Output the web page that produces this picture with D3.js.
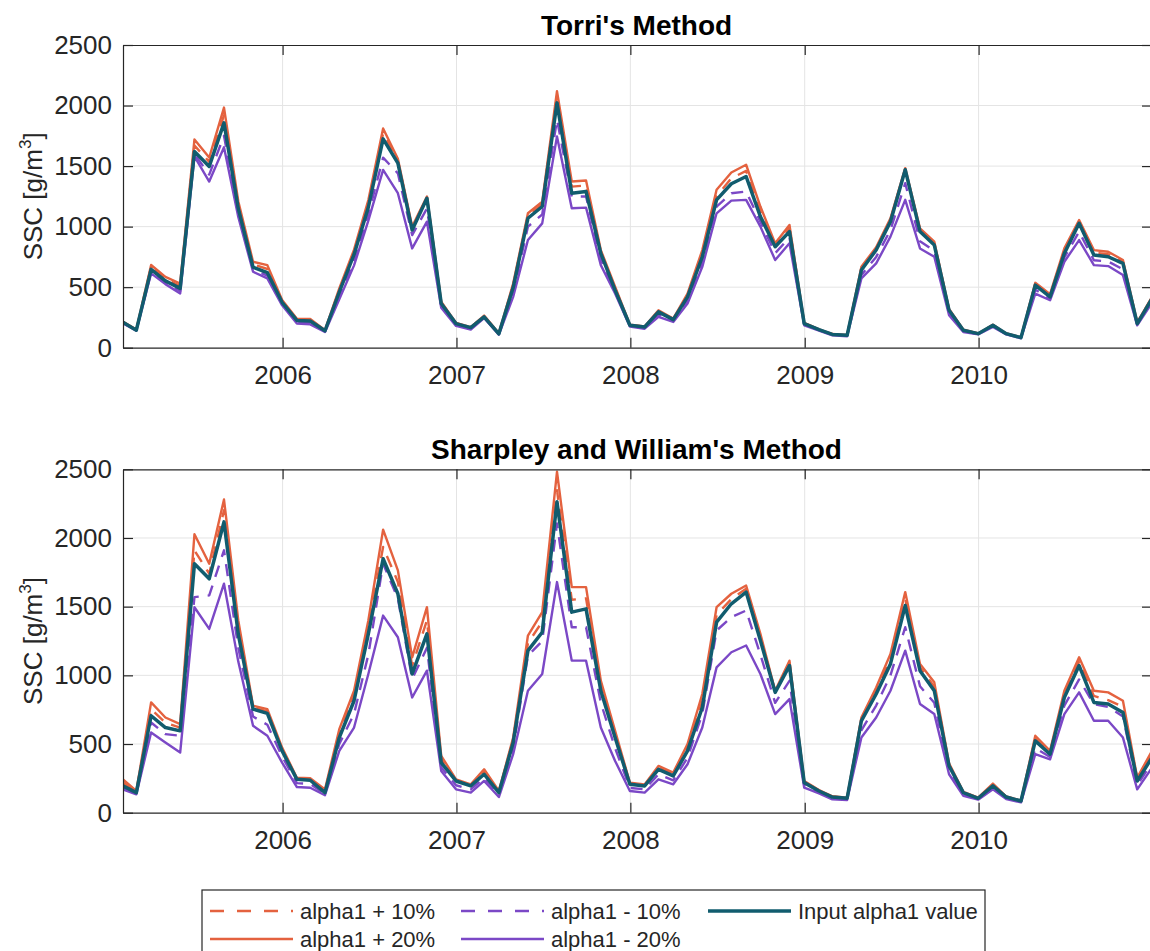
<!DOCTYPE html>
<html>
<head>
<meta charset="utf-8">
<script src="https://cdn.jsdelivr.net/npm/d3@7"></script>
<style>
  body { margin: 0; background: #fff; }
  text { font-family: "Liberation Sans", Arial, Helvetica, sans-serif; fill: #262626; }
</style>
</head>
<body>
<script>
// monthly values, month-end dates Jan 2005 .. Dec 2010
var months = d3.range(72).map(function (i) { return new Date(2005, i + 1, 0); });
var yearTicks = [2006, 2007, 2008, 2009, 2010];
var yTicks = [0, 500, 1000, 1500, 2000, 2500];

// Torri's Method
var torriInput   = [210,145,647,552,490,1620,1497,1857,1150,665,620,375,225,220,140,460,770,1160,1725,1525,972,1234,365,199,166,255,115,497,1069,1166,2022,1276,1290,779,475,185,171,296,232,420,751,1221,1354,1414,1083,834,959,199,149,110,102,641,807,1041,1470,959,848,309,144,116,185,116,83,517,420,779,1027,765,751,696,199,406];
var torriPlus20  = [215,150,683,585,530,1720,1570,1983,1210,710,682,395,240,237,145,490,810,1220,1810,1560,1000,1249,380,205,170,265,120,530,1110,1207,2118,1373,1381,806,503,190,175,309,240,447,806,1304,1447,1511,1166,862,1014,205,152,113,105,669,830,1069,1483,986,876,320,148,118,190,118,86,536,442,820,1055,806,793,724,210,420];
var torriPlus10  = [212,148,665,568,510,1670,1535,1920,1180,688,650,385,232,228,142,475,790,1190,1770,1545,985,1240,372,202,168,260,118,513,1090,1186,2077,1330,1340,792,490,188,173,302,236,433,780,1249,1400,1460,1125,848,986,202,150,112,104,655,818,1055,1476,972,862,315,146,117,188,117,85,527,431,800,1041,786,772,710,205,413];
var torriMinus10 = [205,143,630,538,468,1600,1430,1750,1110,645,595,362,212,206,135,430,720,1100,1570,1440,930,1150,345,190,158,250,112,455,1000,1100,1884,1249,1249,730,460,180,163,275,222,392,710,1166,1276,1290,1040,780,910,192,145,106,98,600,750,972,1359,880,800,288,137,113,178,113,80,480,405,745,958,722,712,648,192,388];
var torriMinus20 = [200,140,614,525,448,1580,1372,1655,1080,627,572,350,200,193,130,400,680,1050,1468,1276,820,1041,330,180,150,245,108,420,889,1027,1745,1152,1157,682,447,175,157,254,213,365,668,1110,1215,1221,1000,724,862,185,140,102,95,572,696,917,1221,820,751,268,130,110,171,110,78,447,392,710,889,682,674,600,185,370];

// Sharpley and William's Method
var sharpInput   = [195,146,706,620,596,1813,1703,2117,1300,754,723,450,243,236,146,547,815,1302,1849,1594,1010,1302,365,231,195,280,146,511,1180,1314,2263,1460,1484,888,547,207,195,316,268,450,766,1387,1521,1606,1253,876,1071,219,158,114,105,669,864,1083,1508,1034,888,341,146,105,195,114,85,523,426,839,1071,803,791,730,231,401];
var sharpPlus20  = [243,158,803,693,645,2027,1813,2280,1400,779,754,474,255,251,170,608,888,1399,2061,1764,1131,1496,414,243,207,316,158,547,1290,1460,2482,1642,1642,961,596,219,205,341,292,499,864,1496,1594,1654,1302,888,1107,230,165,120,110,693,912,1156,1606,1083,949,360,152,110,212,118,88,560,450,888,1131,888,876,815,255,450];
var sharpPlus10  = [220,152,754,655,620,1910,1740,2202,1350,766,738,462,249,243,158,578,850,1350,1934,1680,1070,1400,390,237,201,298,152,529,1235,1390,2348,1550,1560,925,570,213,200,328,280,475,815,1440,1555,1630,1277,882,1089,225,162,117,108,681,888,1120,1557,1058,918,350,149,108,203,116,86,541,438,863,1101,850,820,770,243,425];
var sharpMinus10 = [182,140,657,572,560,1569,1582,1910,1200,700,640,410,215,210,137,500,720,1150,1813,1560,973,1200,330,200,170,255,130,470,1143,1250,2105,1350,1350,800,470,180,170,280,236,400,720,1326,1423,1472,1150,800,960,200,148,105,98,600,780,1000,1350,920,800,310,132,100,180,108,80,470,405,780,970,790,770,700,200,365];
var sharpMinus20 = [170,134,584,511,438,1496,1338,1667,1100,633,560,365,187,182,127,450,620,1010,1435,1277,839,1034,304,170,146,231,114,426,888,1010,1679,1107,1107,620,377,158,146,243,207,353,620,1058,1168,1217,1010,718,827,182,140,97,92,547,693,888,1180,791,718,280,122,95,170,100,75,426,389,718,876,669,669,547,170,328];

var seriesNames = ["alpha1 + 10%", "alpha1 + 20%", "alpha1 - 10%", "alpha1 - 20%", "Input alpha1 value"];
var seriesColors = ["#E4623F", "#E4623F", "#7B48C6", "#7B48C6", "#115C6E"];
var seriesDash = ["12,9", null, "12,9", null, null];
var seriesWidth = [2.4, 2.4, 2.4, 2.4, 3.5];

var panels = [
  { title: "Torri's Method", top: 45, bottom: 347.7,
    data: [torriPlus10, torriPlus20, torriMinus10, torriMinus20, torriInput] },
  { title: "Sharpley and William's Method", top: 469.3, bottom: 812.7,
    data: [sharpPlus10, sharpPlus20, sharpMinus10, sharpMinus20, sharpInput] }
];

var left = 123, right = 1152;

var svg = d3.select("body").append("svg")
    .attr("width", 1150)
    .attr("height", 951);

svg.append("rect").attr("width", 1150).attr("height", 951).attr("fill", "#fff");

var x = d3.scaleTime().domain([months[0], months[71]]).range([left, right]);
var yearDates = yearTicks.map(function (yr) { return new Date(yr, 0, 1); });

panels.forEach(function (p, pi) {
    var y = d3.scaleLinear().domain([0, 2500]).range([p.bottom, p.top]);
    var g = svg.append("g");

    // grid
    g.selectAll(".gy").data(yTicks.slice(1, 5)).enter().append("line")
        .attr("x1", left).attr("x2", right)
        .attr("y1", function (d) { return y(d); }).attr("y2", function (d) { return y(d); })
        .attr("stroke", "#e4e4e4").attr("stroke-width", 1);
    g.selectAll(".gx").data(yearDates).enter().append("line")
        .attr("x1", function (d) { return x(d); }).attr("x2", function (d) { return x(d); })
        .attr("y1", p.top).attr("y2", p.bottom)
        .attr("stroke", "#e4e4e4").attr("stroke-width", 1);

    // clip
    svg.append("clipPath").attr("id", "clip" + pi).append("rect")
        .attr("x", left).attr("y", p.top).attr("width", right - left).attr("height", p.bottom - p.top);

    var line = d3.line()
        .x(function (d, i) { return x(months[i]); })
        .y(function (d) { return y(d); });

    p.data.forEach(function (vals, si) {
        g.append("path")
            .attr("clip-path", "url(#clip" + pi + ")")
            .attr("d", line(vals))
            .attr("fill", "none")
            .attr("stroke", seriesColors[si])
            .attr("stroke-width", seriesWidth[si])
            .attr("stroke-dasharray", seriesDash[si])
            .attr("stroke-linejoin", "round");
    });

    // axes (box with inward ticks)
    var xb = g.append("g").attr("transform", "translate(0," + p.bottom + ")")
        .call(d3.axisBottom(x).tickValues(yearDates).tickFormat(d3.timeFormat("%Y"))
            .tickSizeInner(-10).tickSizeOuter(0).tickPadding(18));
    var xt = g.append("g").attr("transform", "translate(0," + p.top + ")")
        .call(d3.axisTop(x).tickValues(yearDates).tickFormat("")
            .tickSizeInner(-10).tickSizeOuter(0));
    var yl = g.append("g").attr("transform", "translate(" + left + ",0)")
        .call(d3.axisLeft(y).tickValues(yTicks).tickFormat(d3.format("d"))
            .tickSizeInner(-10).tickSizeOuter(0).tickPadding(11));
    var yr = g.append("g").attr("transform", "translate(" + right + ",0)")
        .call(d3.axisRight(y).tickValues(yTicks).tickFormat("").tickSizeInner(-10).tickSizeOuter(0));

    [xb, xt, yl, yr].forEach(function (a) {
        a.selectAll("path, line").attr("stroke", "#262626").attr("stroke-width", 1.2);
        a.selectAll("text").attr("font-size", 26).attr("fill", "#262626")
            .style("font-family", "'Liberation Sans', Arial, sans-serif");
    });

    // title
    g.append("text")
        .attr("x", (left + right) / 2 - 1)
        .attr("y", p.top - 10)
        .attr("text-anchor", "middle")
        .attr("font-size", 28)
        .attr("font-weight", "bold")
        .style("fill", "#000")
        .text(p.title);

    // y label
    var ylab = g.append("text")
        .attr("transform", "translate(42," + ((p.top + p.bottom) / 2) + ") rotate(-90)")
        .attr("text-anchor", "middle")
        .attr("font-size", 26);
    ylab.append("tspan").text("SSC [g/m");
    ylab.append("tspan").attr("font-size", 17).attr("dy", -11).text("3");
    ylab.append("tspan").attr("dy", 11).text("]");
});

// legend
var legend = svg.append("g");
legend.append("rect")
    .attr("x", 202).attr("y", 890).attr("width", 783).attr("height", 70)
    .attr("fill", "#fff").attr("stroke", "#262626").attr("stroke-width", 1.2);

var legendPos = [
  { x: 210, y: 911 }, { x: 210, y: 939 },
  { x: 461, y: 911 }, { x: 461, y: 939 },
  { x: 708, y: 911 }
];

seriesNames.forEach(function (name, i) {
    var lp = legendPos[i];
    legend.append("line")
        .attr("x1", lp.x).attr("x2", lp.x + 83)
        .attr("y1", lp.y).attr("y2", lp.y)
        .attr("stroke", seriesColors[i])
        .attr("stroke-width", seriesWidth[i])
        .attr("stroke-dasharray", seriesDash[i] ? "14,13" : null);
    legend.append("text")
        .attr("x", lp.x + 90).attr("y", lp.y)
        .attr("dy", "0.35em")
        .attr("font-size", 22)
        .text(name);
});
</script>
</body>
</html>
